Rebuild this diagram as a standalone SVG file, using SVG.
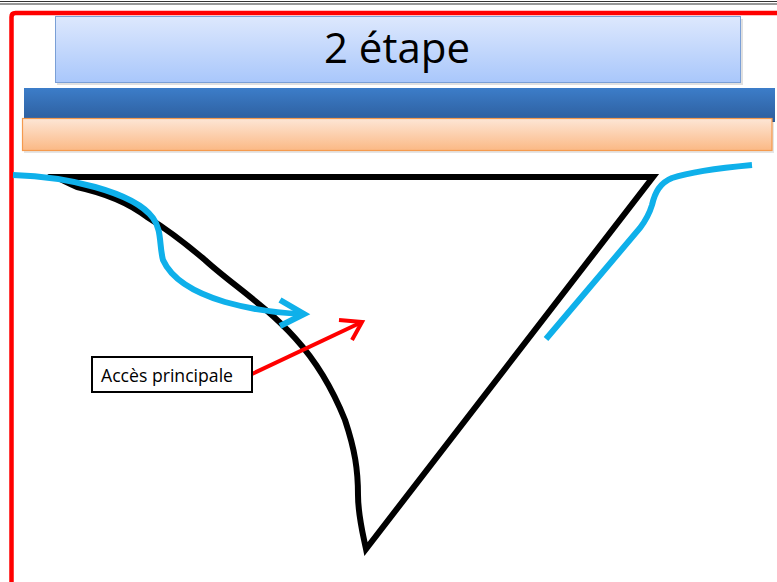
<svg xmlns="http://www.w3.org/2000/svg" width="777" height="582" viewBox="0 0 777 582">
<defs>
<linearGradient id="gTitle" x1="0" y1="0" x2="0" y2="1"><stop offset="0" stop-color="#dde8fd"/><stop offset="1" stop-color="#a9c7fb"/></linearGradient>
<linearGradient id="gBlue" x1="0" y1="0" x2="0" y2="1"><stop offset="0" stop-color="#3c7dc9"/><stop offset="1" stop-color="#2d5d9c"/></linearGradient>
<linearGradient id="gOrange" x1="0" y1="0" x2="0" y2="1"><stop offset="0" stop-color="#fde6d6"/><stop offset="1" stop-color="#fbb985"/></linearGradient>
<style>
.txt{font-family:"Open Sans","Noto Sans","Liberation Sans",sans-serif;fill:#000}
.blk{fill:none;stroke:#000;stroke-width:6;stroke-linejoin:miter;stroke-linecap:butt}
.cy{fill:none;stroke:#0fb0ea;stroke-width:6;stroke-linecap:butt;stroke-linejoin:miter}
.rd{fill:none;stroke:#ff0000;stroke-width:4;stroke-linecap:butt}
</style>
</defs>
<rect width="777" height="582" fill="#fff"/>
<line x1="0" y1="1.5" x2="777" y2="1.5" stroke="#333" stroke-width="1"/>
<line x1="0" y1="4" x2="777" y2="4" stroke="#333" stroke-width="1.2"/>
<path d="M11.5 582 V17 Q11.5 13 15.5 13 H777" fill="none" stroke="#ff0000" stroke-width="4.5"/>
<g id="title">
<rect x="57" y="19" width="686" height="66" fill="#000" opacity="0.12"/>
<rect x="55.5" y="16.5" width="685" height="66" fill="url(#gTitle)" stroke="#7a9fd6" stroke-width="1"/>
<text class="txt" x="397" y="63" font-size="42" text-anchor="middle">2 étape</text>
</g>
<g id="bar-blue">
<rect x="24" y="88" width="751" height="34" fill="url(#gBlue)"/>
</g>
<g id="bar-orange">
<rect x="24" y="121" width="750" height="32" fill="#000" opacity="0.1"/>
<rect x="22.5" y="118.5" width="749.5" height="32" fill="url(#gOrange)" stroke="#f59a4e" stroke-width="1.2"/>
</g>
<g id="shape">
<path class="blk" d="M57 177 H653 L366 549 C362 530 358 515 358 495 C358 470 355 450 345 420 C333 390 315 360 295 338 C265 305 230 283 205 260 C185 243 165 228 147 217 C125 200 100 192 77 187 C68 183 60 179 57 177 Z"/>
</g>
<g id="connectors">
<path class="cy" d="M13 175 C45 176 70 180 95 187 C120 194 142 203 153 218 C162 230 159 245 163 260 C172 280 195 293 225 302 C250 309 275 313 302 314"/>
<path class="cy" d="M280 300 L304 314 L280 326"/>
<path class="cy" d="M752 165 C720 168 690 172 672 178 C660 183 655 192 652 205 C649 215 646 220 640 228 L546 339"/>
<path class="rd" d="M252 374 L362 322"/>
<path class="rd" d="M339 320 L362 322 L352 340"/>
</g>
<g id="label">
<rect x="92" y="357" width="160" height="35" fill="#fff" stroke="#000" stroke-width="2"/>
<text class="txt" x="101" y="382" font-size="18" textLength="132" lengthAdjust="spacingAndGlyphs">Accès principale</text>
</g>
</svg>
